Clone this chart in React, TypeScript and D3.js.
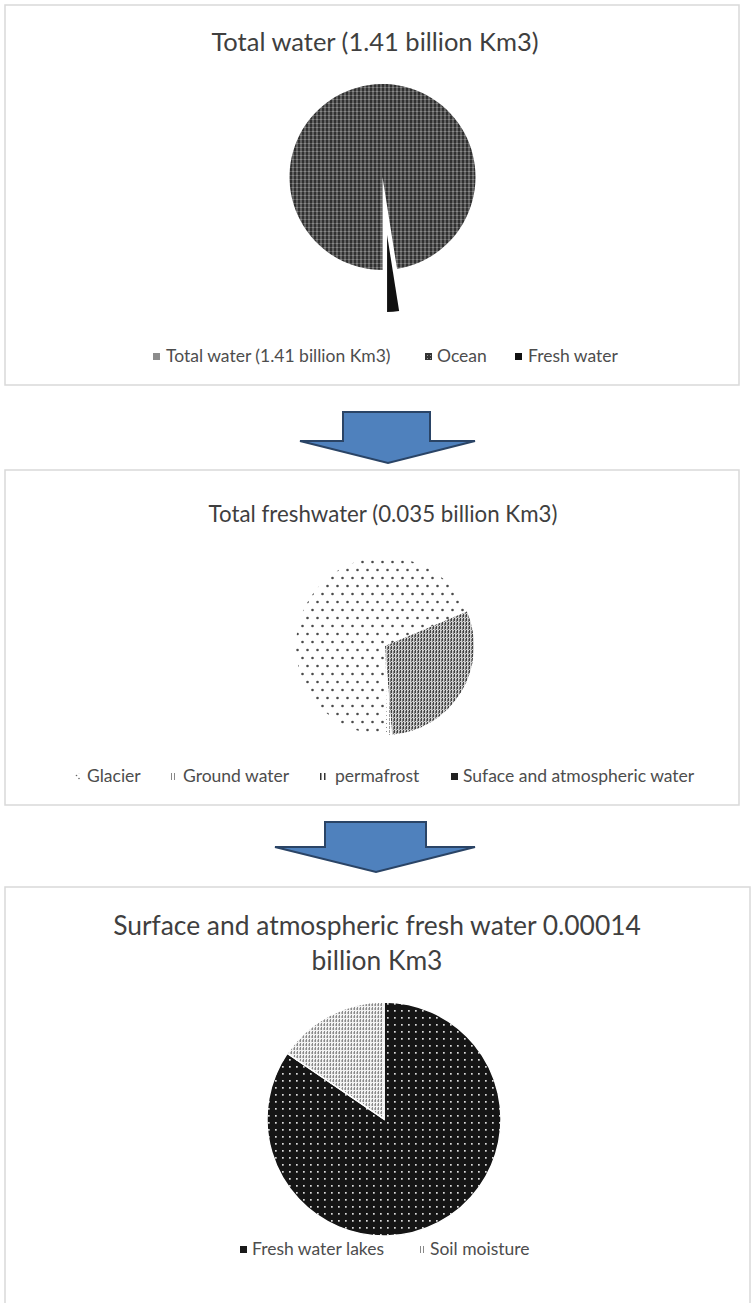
import React from "react";
import * as d3 from "d3";

// ---------- DATA ----------
const chart1Title = ["Total water (1.41 billion Km3)"];
const chart1Categories = ["Total water (1.41 billion Km3)", "Ocean", "Fresh water"];
const chart1Values = [0, 97.5, 2.5];

const chart2Title = ["Total freshwater (0.035 billion Km3)"];
const chart2Categories = ["Glacier", "Ground water", "permafrost", "Suface and atmospheric water"];
const chart2Values = [68.7, 30.1, 0.86, 0.4];

const chart3Title = ["Surface and atmospheric fresh water 0.00014", "billion Km3"];
const chart3Categories = ["Fresh water lakes", "Soil moisture"];
const chart3Values = [84.5, 15.5];

// ---------- STYLE ----------
const FONT = "Lato, 'Open Sans', sans-serif";
const TITLE_COLOR = "#3f3f3f";
const LEGEND_COLOR = "#4d4d4d";
const BORDER = "#d9d9d9";

type PieSpec = {
  cx: number;
  cy: number;
  r: number;
  start: number; // degrees clockwise from 12 o'clock
  fills: string[];
  explode?: { index: number; offset: number; radiusScale: number };
  stroke?: string;
};

function Pie({ values, spec }: { values: number[]; spec: PieSpec }) {
  const s = (spec.start * Math.PI) / 180;
  const pie = d3
    .pie<number>()
    .sort(null)
    .value((d) => d)
    .startAngle(s)
    .endAngle(s + 2 * Math.PI);
  const arcs = pie(values);
  return (
    <g transform={`translate(${spec.cx},${spec.cy})`}>
      {arcs.map((a, i) => {
        if (a.endAngle - a.startAngle <= 0) return null;
        let r = spec.r;
        let tx = 0,
          ty = 0;
        if (spec.explode && spec.explode.index === i) {
          const mid = (a.startAngle + a.endAngle) / 2;
          tx = Math.sin(mid) * spec.explode.offset;
          ty = -Math.cos(mid) * spec.explode.offset;
          r = spec.r * spec.explode.radiusScale;
        }
        const arc = d3.arc<d3.PieArcDatum<number>>().innerRadius(0).outerRadius(r);
        return (
          <path
            key={i}
            d={arc(a) || ""}
            transform={`translate(${tx},${ty})`}
            fill={spec.fills[i]}
            stroke={spec.stroke || "none"}
            strokeWidth={spec.stroke ? 1.5 : 0}
          />
        );
      })}
    </g>
  );
}

function Legend({
  categories,
  fills,
  xs,
  textXs,
  y,
  size,
}: {
  categories: string[];
  fills: string[];
  xs: number[];
  textXs: number[];
  y: number;
  size: number;
}) {
  return (
    <g>
      {categories.map((c, i) => (
        <g key={c}>
          <rect x={xs[i]} y={y - 9} width={7} height={7} fill={fills[i]} />
          <text x={textXs[i]} y={y} fontFamily={FONT} fontSize={size} fill={LEGEND_COLOR}>
            {c}
          </text>
        </g>
      ))}
    </g>
  );
}

function Title({ lines, x, y, size, gap }: { lines: string[]; x: number; y: number; size: number; gap: number }) {
  return (
    <g>
      {lines.map((l, i) => (
        <text
          key={i}
          x={x}
          y={y + i * gap}
          textAnchor="middle"
          fontFamily={FONT}
          fontSize={size}
          fill={TITLE_COLOR}
        >
          {l}
        </text>
      ))}
    </g>
  );
}

function Arrow({ pts }: { pts: [number, number][] }) {
  return (
    <polygon
      points={pts.map((p) => p.join(",")).join(" ")}
      fill="#4f81bd"
      stroke="#2a4466"
      strokeWidth={2}
      strokeLinejoin="miter"
    />
  );
}

export default function App() {
  const fills1 = ["#7f7f7f", "url(#ocean)", "#111111"];
  const fills2 = ["url(#glacier)", "url(#ground)", "url(#perma)", "url(#surface)"];
  const fills3 = ["url(#lakes)", "url(#soil)"];
  const legendFills1 = ["#8c8c8c", "url(#oceanL)", "#111111"];
  const legendFills2 = ["url(#glacierL)", "url(#soilL)", "url(#permaL)", "#222222"];
  const legendFills3 = ["#1a1a1a", "url(#soilL)"];

  return (
    <svg
      width={753}
      height={1303}
      style={{ position: "absolute", left: 0, top: 0, background: "#ffffff" }}
    >
      <defs>
        <pattern id="ocean" width={4} height={4} patternUnits="userSpaceOnUse">
          <rect width={4} height={4} fill="#303030" />
          <rect x={2} y={0} width={1} height={4} fill="#8f8f8f" />
          <rect x={0} y={2} width={4} height={1} fill="#5a5a5a" />
          <rect x={2} y={2} width={1} height={1} fill="#b5b5b5" />
        </pattern>
        <pattern id="oceanL" width={3} height={3} patternUnits="userSpaceOnUse">
          <rect width={3} height={3} fill="#333" />
          <rect x={1} y={1} width={1} height={1} fill="#999" />
        </pattern>
        <pattern id="glacier" width={10} height={16} patternUnits="userSpaceOnUse">
          <rect width={10} height={16} fill="#ffffff" />
          <circle cx={2.5} cy={4} r={1.3} fill="#4a4a4a" />
          <circle cx={7.5} cy={12} r={1.3} fill="#4a4a4a" />
        </pattern>
        <pattern id="glacierL" width={6} height={6} patternUnits="userSpaceOnUse">
          <rect width={6} height={6} fill="#fff" />
          <circle cx={1} cy={4.5} r={0.8} fill="#666" />
          <circle cx={4.5} cy={1.5} r={0.8} fill="#666" />
        </pattern>
        <pattern id="ground" width={3} height={4} patternUnits="userSpaceOnUse">
          <rect width={3} height={4} fill="#d0d0d0" />
          <rect x={0} y={0} width={1} height={3} fill="#404040" />
          <rect x={2} y={1} width={1} height={3} fill="#7a7a7a" />
        </pattern>
        <pattern id="perma" width={4} height={4} patternUnits="userSpaceOnUse">
          <rect width={4} height={4} fill="#ffffff" />
          <rect x={0} y={0} width={1} height={3} fill="#9a9a9a" />
        </pattern>
        <pattern id="permaL" width={4} height={7} patternUnits="userSpaceOnUse">
          <rect width={4} height={7} fill="#ffffff" />
          <rect x={0} y={0} width={1.5} height={7} fill="#333" />
        </pattern>
        <pattern id="surface" width={4} height={4} patternUnits="userSpaceOnUse">
          <rect width={4} height={4} fill="#ffffff" />
          <rect x={1} y={1} width={1} height={1} fill="#888" />
        </pattern>
        <pattern id="lakes" width={7} height={7} patternUnits="userSpaceOnUse">
          <rect width={7} height={7} fill="#151515" />
          <rect x={3} y={3} width={1.7} height={1.7} fill="#dcdcdc" />
        </pattern>
        <pattern id="soil" width={3} height={4} patternUnits="userSpaceOnUse">
          <rect width={3} height={4} fill="#f2f2f2" />
          <rect x={0} y={0} width={1} height={3} fill="#8a8a8a" />
          <rect x={2} y={1} width={1} height={2} fill="#b8b8b8" />
        </pattern>
        <pattern id="soilL" width={3} height={3} patternUnits="userSpaceOnUse">
          <rect width={3} height={3} fill="#ffffff" />
          <rect x={0} y={0} width={1} height={3} fill="#888" />
        </pattern>
      </defs>

      {/* Panel 1 */}
      <rect x={5} y={5} width={734} height={380} fill="#fff" stroke={BORDER} strokeWidth={1.5} />
      <Title lines={chart1Title} x={375} y={51} size={25.5} gap={0} />
      <Pie
        values={chart1Values}
        spec={{
          cx: 382.5,
          cy: 177,
          r: 93,
          start: 180,
          fills: fills1,
          explode: { index: 2, offset: 58, radiusScale: 0.83 },
        }}
      />
      <Legend
        categories={chart1Categories}
        fills={legendFills1}
        xs={[153, 425, 515]}
        textXs={[166, 437, 528]}
        y={362}
        size={17.5}
      />

      <Arrow pts={[[343, 412], [430, 412], [430, 441], [475, 441], [388, 463], [300, 441], [343, 441]]} />

      {/* Panel 2 */}
      <rect x={5} y={470} width={734} height={335} fill="#fff" stroke={BORDER} strokeWidth={1.5} />
      <Title lines={chart2Title} x={383} y={522} size={22.3} gap={0} />
      <Pie
        values={chart2Values}
        spec={{ cx: 385, cy: 646, r: 89, start: 180, fills: fills2 }}
      />
      <Legend
        categories={chart2Categories}
        fills={legendFills2}
        xs={[74, 170, 320, 451]}
        textXs={[87, 183, 335, 463]}
        y={782}
        size={17.5}
      />

      <Arrow pts={[[325, 822], [426, 822], [426, 847], [475, 847], [376, 872], [275, 847], [325, 847]]} />

      {/* Panel 3 */}
      <rect x={5} y={887} width={745} height={430} fill="#fff" stroke={BORDER} strokeWidth={1.5} />
      <Title lines={chart3Title} x={377} y={935} size={26.4} gap={35} />
      <Pie
        values={chart3Values}
        spec={{ cx: 384, cy: 1119, r: 117, start: 0, fills: fills3, stroke: "#ffffff" }}
      />
      <Legend
        categories={chart3Categories}
        fills={legendFills3}
        xs={[240, 419]}
        textXs={[252, 430]}
        y={1255}
        size={17.5}
      />
    </svg>
  );
}
